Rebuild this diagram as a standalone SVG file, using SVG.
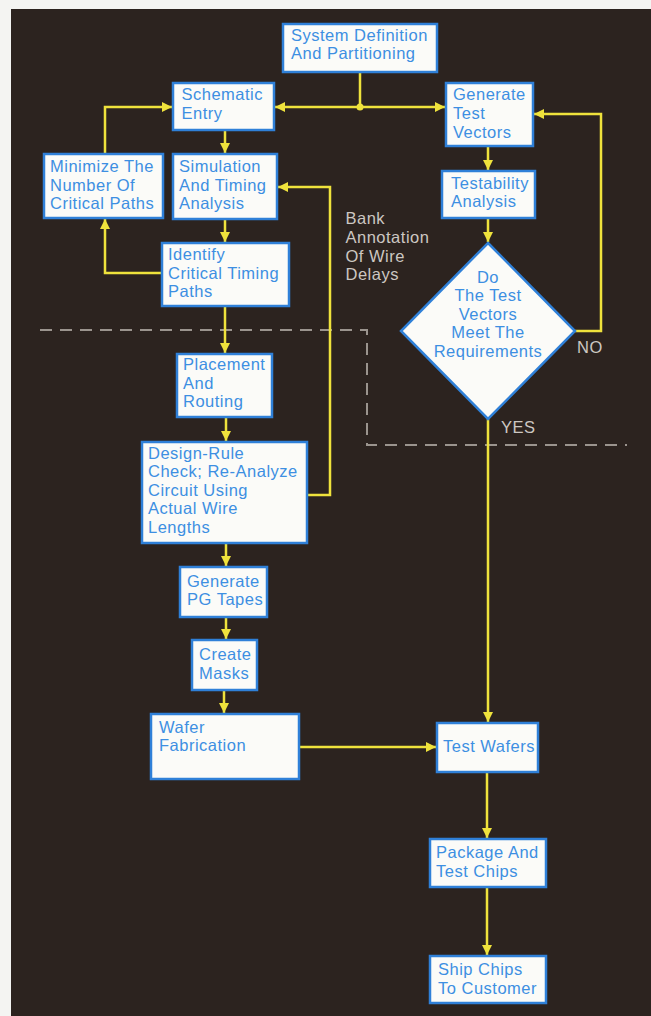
<svg xmlns="http://www.w3.org/2000/svg" width="651" height="1016" viewBox="0 0 651 1016">
<defs>
<style>
.box{fill:#fbfbf8;stroke:#2f80d8;stroke-width:2.5}
.t{font-family:"Liberation Sans",Arial,sans-serif;font-size:16.5px;letter-spacing:0.5px;fill:#3d8fe2}
.tc{font-family:"Liberation Sans",Arial,sans-serif;font-size:16.5px;letter-spacing:0.5px;fill:#3d8fe2;text-anchor:middle}
.lbl{font-family:"Liberation Sans",Arial,sans-serif;font-size:16.5px;letter-spacing:0.5px;fill:#cdc7c2}
.c{fill:none;stroke:#efe23c;stroke-width:2.5}
.dash{fill:none;stroke:#9b948e;stroke-width:2;stroke-dasharray:12 8}
</style>
<marker id="ah" viewBox="0 0 10 10" refX="10" refY="5" markerWidth="10" markerHeight="11" markerUnits="userSpaceOnUse" orient="auto">
<path d="M0,0 L10,5 L0,10 z" fill="#efe23c"/>
</marker>
</defs>
<rect x="0" y="0" width="651" height="1016" fill="#f4f4f2"/>
<rect x="11" y="9" width="640" height="1007" fill="#2c231f"/>

<path class="dash" d="M40,330 H367 V445 H627"/>

<g id="connectors">
<path class="c" d="M360,72 V107"/>
<path class="c" d="M360,107 H275" marker-end="url(#ah)"/>
<path class="c" d="M360,107 H445" marker-end="url(#ah)"/>
<circle cx="360" cy="107" r="3.5" fill="#efe23c"/>
<path class="c" d="M105,154 V107 H172" marker-end="url(#ah)"/>
<path class="c" d="M225,130 V153" marker-end="url(#ah)"/>
<path class="c" d="M225,219 V242" marker-end="url(#ah)"/>
<path class="c" d="M162,273 H105 V219" marker-end="url(#ah)"/>
<path class="c" d="M225,306 V353" marker-end="url(#ah)"/>
<path class="c" d="M226,417 V441" marker-end="url(#ah)"/>
<path class="c" d="M307,495 H330 V187 H278" marker-end="url(#ah)"/>
<path class="c" d="M226,543 V566" marker-end="url(#ah)"/>
<path class="c" d="M226,617 V639" marker-end="url(#ah)"/>
<path class="c" d="M224,690 V713" marker-end="url(#ah)"/>
<path class="c" d="M299,747 H436" marker-end="url(#ah)"/>
<path class="c" d="M488,146 V170" marker-end="url(#ah)"/>
<path class="c" d="M488,218 V242" marker-end="url(#ah)"/>
<path class="c" d="M575,331 H601 V114 H534" marker-end="url(#ah)"/>
<path class="c" d="M488,419 V722" marker-end="url(#ah)"/>
<path class="c" d="M487,772 V838" marker-end="url(#ah)"/>
<path class="c" d="M487,887 V955" marker-end="url(#ah)"/>
</g>

<g id="sys"><rect class="box" x="283" y="24" width="154" height="48"/>
<text class="t" x="291" y="40.5">System Definition</text><text class="t" x="291" y="59">And Partitioning</text></g>

<g id="schematic"><rect class="box" x="173" y="83" width="101" height="47"/>
<text class="t" x="181.5" y="100">Schematic</text><text class="t" x="181.5" y="118.5">Entry</text></g>

<g id="generate"><rect class="box" x="446" y="83" width="87" height="63"/>
<text class="t" x="453" y="100">Generate</text><text class="t" x="453" y="119">Test</text><text class="t" x="453" y="137.5">Vectors</text></g>

<g id="minimize"><rect class="box" x="44" y="154" width="119" height="64"/>
<text class="t" x="50" y="172">Minimize The</text><text class="t" x="50" y="190.5">Number Of</text><text class="t" x="50" y="209">Critical Paths</text></g>

<g id="simulation"><rect class="box" x="173" y="154" width="104" height="65"/>
<text class="t" x="179" y="172">Simulation</text><text class="t" x="179" y="190.5">And Timing</text><text class="t" x="179" y="209">Analysis</text></g>

<g id="testability"><rect class="box" x="442" y="171" width="93" height="47"/>
<text class="t" x="451" y="188.5">Testability</text><text class="t" x="451" y="207">Analysis</text></g>

<g id="identify"><rect class="box" x="162" y="243" width="127" height="63"/>
<text class="t" x="168" y="260">Identify</text><text class="t" x="168" y="278.5">Critical Timing</text><text class="t" x="168" y="297">Paths</text></g>

<g id="decision"><polygon class="box" points="488,243 575,331 488,419 401,331"/>
<text class="tc" x="488" y="282.5">Do</text><text class="tc" x="488" y="301">The Test</text><text class="tc" x="488" y="319.5">Vectors</text><text class="tc" x="488" y="338">Meet The</text><text class="tc" x="488" y="356.5">Requirements</text></g>

<g id="placement"><rect class="box" x="177" y="354" width="95" height="63"/>
<text class="t" x="183" y="370">Placement</text><text class="t" x="183" y="388.5">And</text><text class="t" x="183" y="407">Routing</text></g>

<g id="designrule"><rect class="box" x="142" y="442" width="165" height="101"/>
<text class="t" x="148" y="458.5">Design-Rule</text><text class="t" x="148" y="477">Check; Re-Analyze</text><text class="t" x="148" y="495.5">Circuit Using</text><text class="t" x="148" y="514">Actual Wire</text><text class="t" x="148" y="532.5">Lengths</text></g>

<g id="pgtapes"><rect class="box" x="180" y="567" width="87" height="50"/>
<text class="t" x="187" y="586.5">Generate</text><text class="t" x="187" y="605">PG Tapes</text></g>

<g id="masks"><rect class="box" x="192" y="640" width="65" height="50"/>
<text class="t" x="199" y="660">Create</text><text class="t" x="199" y="678.5">Masks</text></g>

<g id="wafer"><rect class="box" x="151" y="714" width="148" height="65"/>
<text class="t" x="159" y="732.5">Wafer</text><text class="t" x="159" y="751">Fabrication</text></g>

<g id="testwafers"><rect class="box" x="437" y="723" width="101" height="49"/>
<text class="t" x="443" y="752">Test Wafers</text></g>

<g id="package"><rect class="box" x="430" y="839" width="116" height="48"/>
<text class="t" x="436" y="858">Package And</text><text class="t" x="436" y="876.5">Test Chips</text></g>

<g id="ship"><rect class="box" x="430" y="956" width="116" height="47"/>
<text class="t" x="438" y="975">Ship Chips</text><text class="t" x="438" y="993.5">To Customer</text></g>

<g id="labels">
<text class="lbl" x="345.5" y="224">Bank</text><text class="lbl" x="345.5" y="243">Annotation</text><text class="lbl" x="345.5" y="261.5">Of Wire</text><text class="lbl" x="345.5" y="280">Delays</text>
<text class="lbl" x="577" y="353">NO</text>
<text class="lbl" x="501" y="433">YES</text>
</g>
</svg>
